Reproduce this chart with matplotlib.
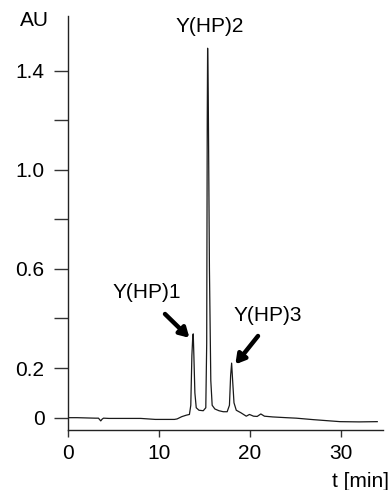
import matplotlib
matplotlib.use("Agg")
import matplotlib.pyplot as plt

plt.rcParams['font.family'] = ['Liberation Sans', 'DejaVu Sans']

# Chromatogram trace (time in min, absorbance in AU)
t_min = [0.0, 1.0, 2.0, 3.0, 3.35, 3.6, 3.75, 3.9, 4.5, 6.0, 8.0, 9.6, 10.5, 11.7,
         12.0, 12.5, 13.0, 13.35, 13.5, 13.62, 13.72, 13.77, 13.84, 13.95, 14.1,
         14.4, 14.87, 15.15, 15.25, 15.31, 15.35, 15.42, 15.55, 15.7, 15.85, 16.15,
         16.6, 17.07, 17.5, 17.75, 17.88, 17.99, 18.1, 18.25, 18.5, 19.0, 19.6,
         19.95, 20.4, 20.8, 21.2, 21.6, 22.5, 24.0, 25.1, 27.0, 29.9, 32.0, 34.0]
absorbance = [0.0, 0.0, -0.001, -0.002, -0.002, -0.013, -0.006, -0.002, -0.003, -0.003,
              -0.003, -0.007, -0.007, -0.007, -0.005, 0.004, 0.01, 0.013, 0.05, 0.25,
              0.33, 0.338, 0.25, 0.1, 0.04, 0.03, 0.028, 0.04, 0.3, 1.2, 1.49, 1.3,
              0.6, 0.15, 0.05, 0.035, 0.028, 0.024, 0.024, 0.05, 0.17, 0.22, 0.15,
              0.06, 0.03, 0.02, 0.006, 0.013, 0.006, 0.005, 0.015, 0.006, 0.003,
              0.0, -0.002, -0.008, -0.016, -0.017, -0.016]

y_ticks = [0, 0.2, 0.4, 0.6, 0.8, 1.0, 1.2, 1.4]
y_tick_labels = ['0', '0.2', '', '0.6', '', '1.0', '', '1.4']
x_ticks = [0, 10, 20, 30]
x_tick_labels = ['0', '10', '20', '30']

peak_names = ['Y(HP)1', 'Y(HP)2', 'Y(HP)3']

W, H = 391, 490
fig = plt.figure(figsize=(W / 100, H / 100), dpi=100)
ax = fig.add_axes([68 / W, (H - 430) / H, (382.7 - 68) / W, (430 - 16) / H])

ax.plot(t_min, absorbance, color='#1a1a1a', lw=0.9)

ax.set_xlim(0, 34.6)
ax.set_ylim(-0.0497, 1.62)

for s in ['top', 'right']:
    ax.spines[s].set_visible(False)
for s in ['left', 'bottom']:
    ax.spines[s].set_linewidth(1.0)
    ax.spines[s].set_color('#222222')

fs = 15

ax.set_yticks(y_ticks)
ax.set_yticklabels(y_tick_labels)
ax.set_xticks(x_ticks)
ax.set_xticklabels(x_tick_labels)
ax.tick_params(axis='y', direction='out', length=10, width=1.0, pad=7,
               labelsize=fs, color='#333333')
ax.tick_params(axis='x', direction='out', length=5, width=1.0, pad=5,
               labelsize=fs, color='#333333')

fig.text(34 / W, 1 - 20 / H, 'AU', ha='center', va='center', fontsize=fs)
fig.text(360 / W, 1 - 481 / H, 't [min]', ha='center', va='center', fontsize=fs)

# Peak labels
ax.annotate(peak_names[1], xy=(15.35, 1.49), xycoords='data',
            xytext=(210 / W, 1 - 27 / H), textcoords='figure fraction',
            ha='center', va='center', fontsize=fs)
ax.annotate(peak_names[0], xy=(13.6, 0.325), xycoords='data',
            xytext=(147 / W, 1 - 293 / H), textcoords='figure fraction',
            ha='center', va='center', fontsize=fs)
ax.annotate(peak_names[2], xy=(18.1, 0.215), xycoords='data',
            xytext=(268 / W, 1 - 315 / H), textcoords='figure fraction',
            ha='center', va='center', fontsize=fs)

# Arrows
ax.annotate('', xy=(13.35, 0.322), xycoords='data',
            xytext=(165 / W, 1 - 314 / H), textcoords='figure fraction',
            arrowprops=dict(arrowstyle='-|>,head_length=0.55,head_width=0.32',
                            lw=3.2, color='black', shrinkA=0, shrinkB=0))
ax.annotate('', xy=(18.4, 0.215), xycoords='data',
            xytext=(258 / W, 1 - 336 / H), textcoords='figure fraction',
            arrowprops=dict(arrowstyle='-|>,head_length=0.55,head_width=0.32',
                            lw=3.2, color='black', shrinkA=0, shrinkB=0))

fig.savefig('out.png', dpi=100)
